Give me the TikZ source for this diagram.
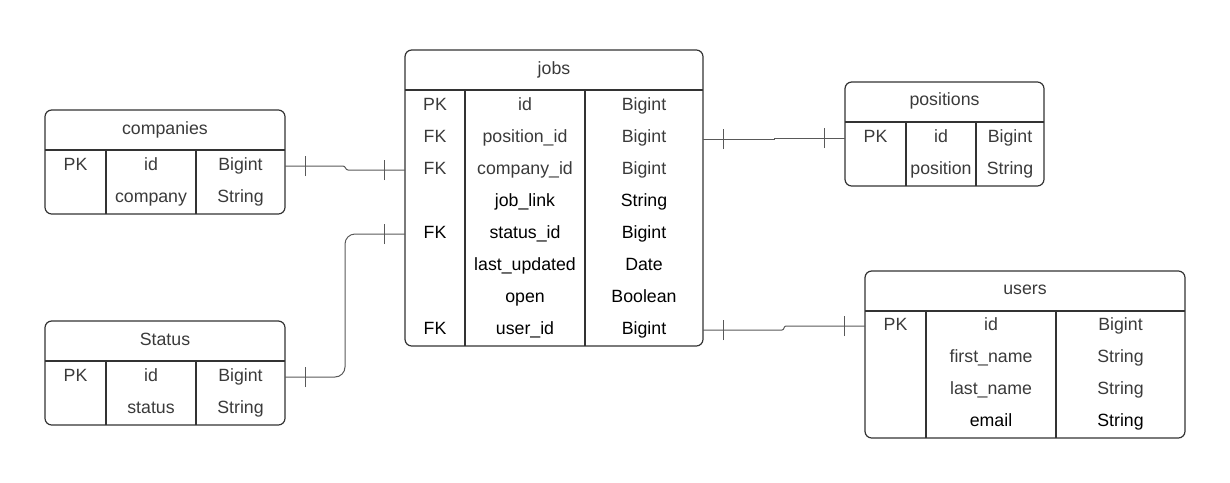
\documentclass[tikz,border=0pt]{standalone}
\usepackage{fontspec}
\setmainfont{Liberation Sans}
\usetikzlibrary{positioning,fit,decorations.markings}
\definecolor{boxColor}{HTML}{333333}
\definecolor{linkColor}{HTML}{595959}
\definecolor{txtColor}{HTML}{3a3a3a}
\tikzset{
	tbl/.style={draw=boxColor, line width=0.9pt, rounded corners=5pt, inner sep=0, outer sep=0},
	grid/.style={draw=boxColor, line width=0.9pt},
	ttl/.style={anchor=base, inner sep=0, text=txtColor},
	cell/.style={anchor=base, inner sep=0},
	link/.style={draw=linkColor, line width=0.75pt},
	one one/.style={decoration={markings,
			mark=at position 15.5pt with {\draw[link] (0,-7.5pt) -- (0,7.5pt);},
			mark=at position -15.5pt with {\draw[link] (0,-7.5pt) -- (0,7.5pt);}},
		postaction={decorate}}
}

\begin{document}
\begin{tikzpicture}[x=0.75pt, y=-0.75pt, font=\fontsize{13.3pt}{16pt}\selectfont]
	\useasboundingbox (0,0) rectangle (1230,482);
	% jobs
	\node[tbl, fit={(405,50) (703,346)}] (jobs) {};
	\draw[grid] (405,90) -- (703,90) (465,90) -- (465,346) (585,90) -- (585,346);
	\node[ttl] (jobs_t) at (554,74) {jobs};
	\foreach \k/\ky/\fld/\typ/\tc in {1/PK/id/Bigint/txtColor, 2/FK/position\_id/Bigint/txtColor,
			3/FK/company\_id/Bigint/txtColor, 4//job\_link/String/black, 5/FK/status\_id/Bigint/black,
			6//last\_updated/Date/black, 7//open/Boolean/black, 8/FK/user\_id/Bigint/black} {
		\node[cell, text=\tc] (jobs_k\k) at (435,78+32*\k) {\ky};
		\node[cell, text=\tc] (jobs_n\k) at (525,78+32*\k) {\fld};
		\node[cell, text=\tc] (jobs_y\k) at (644,78+32*\k) {\typ};
	}
	% companies
	\node[tbl, fit={(45,110) (285,214)}] (companies) {};
	\draw[grid] (45,150) -- (285,150) (106,150) -- (106,214) (196,150) -- (196,214);
	\node[ttl] (companies_t) at (165,134) {companies};
	\foreach \k/\ky/\fld/\typ in {1/PK/id/Bigint, 2//company/String} {
		\node[cell, text=txtColor] (companies_k\k) at (75.5,138+32*\k) {\ky};
		\node[cell, text=txtColor] (companies_n\k) at (151,138+32*\k) {\fld};
		\node[cell, text=txtColor] (companies_y\k) at (240.5,138+32*\k) {\typ};
	}
	% Status
	\node[tbl, fit={(45,321) (285,425)}] (status) {};
	\draw[grid] (45,361) -- (285,361) (106,361) -- (106,425) (196,361) -- (196,425);
	\node[ttl] (status_t) at (165,345) {Status};
	\foreach \k/\ky/\fld/\typ in {1/PK/id/Bigint, 2//status/String} {
		\node[cell, text=txtColor] (status_k\k) at (75.5,349+32*\k) {\ky};
		\node[cell, text=txtColor] (status_n\k) at (151,349+32*\k) {\fld};
		\node[cell, text=txtColor] (status_y\k) at (240.5,349+32*\k) {\typ};
	}
	% positions
	\node[tbl, fit={(845,82) (1044,186)}] (positions) {};
	\draw[grid] (845,122) -- (1044,122) (906,122) -- (906,186) (976,122) -- (976,186);
	\node[ttl] (positions_t) at (944.5,105.5) {positions};
	\foreach \k/\ky/\fld/\typ in {1/PK/id/Bigint, 2//position/String} {
		\node[cell, text=txtColor] (positions_k\k) at (875.5,110+32*\k) {\ky};
		\node[cell, text=txtColor] (positions_n\k) at (941,110+32*\k) {\fld};
		\node[cell, text=txtColor] (positions_y\k) at (1010,110+32*\k) {\typ};
	}
	% users
	\node[tbl, fit={(865,271) (1185,438)}] (users) {};
	\draw[grid] (865,311) -- (1185,311) (926,311) -- (926,438) (1056,311) -- (1056,438);
	\node[ttl] (users_t) at (1025,294) {users};
	\foreach \k/\ky/\fld/\typ/\tc in {1/PK/id/Bigint/txtColor, 2//first\_name/String/txtColor,
			3//last\_name/String/txtColor, 4//email/String/black} {
		\node[cell, text=\tc] (users_k\k) at (895.5,298+32*\k) {\ky};
		\node[cell, text=\tc] (users_n\k) at (991,298+32*\k) {\fld};
		\node[cell, text=\tc] (users_y\k) at (1120.5,298+32*\k) {\typ};
	}
	% row ends
	\coordinate (companies_1) at (285,166);
	\coordinate (status_1) at (285,377);
	\coordinate (positions_1) at (845,138);
	\coordinate (users_1) at (865,326);
	\coordinate (jobs_2) at (703,139);
	\coordinate (jobs_3) at (405,170);
	\coordinate (jobs_5) at (405,234);
	\coordinate (jobs_8) at (703,330);
	% one to one links
	\draw[link, one one] (companies_1) -- ++(58,0) to[out=0, in=180] ++(5,4) -- (jobs_3);
	\draw[link, one one, rounded corners=7.5pt] (status_1) -| ([xshift=-45pt]jobs_5) -- (jobs_5);
	\draw[link, one one] (jobs_2) -- ++(71,0) -- ++(0,-1) -- (positions_1);
	\draw[link, one one] (jobs_8) -- ++(79,0) to[out=0, in=180] ++(4,-4) -- (users_1);
\end{tikzpicture}
\end{document}
